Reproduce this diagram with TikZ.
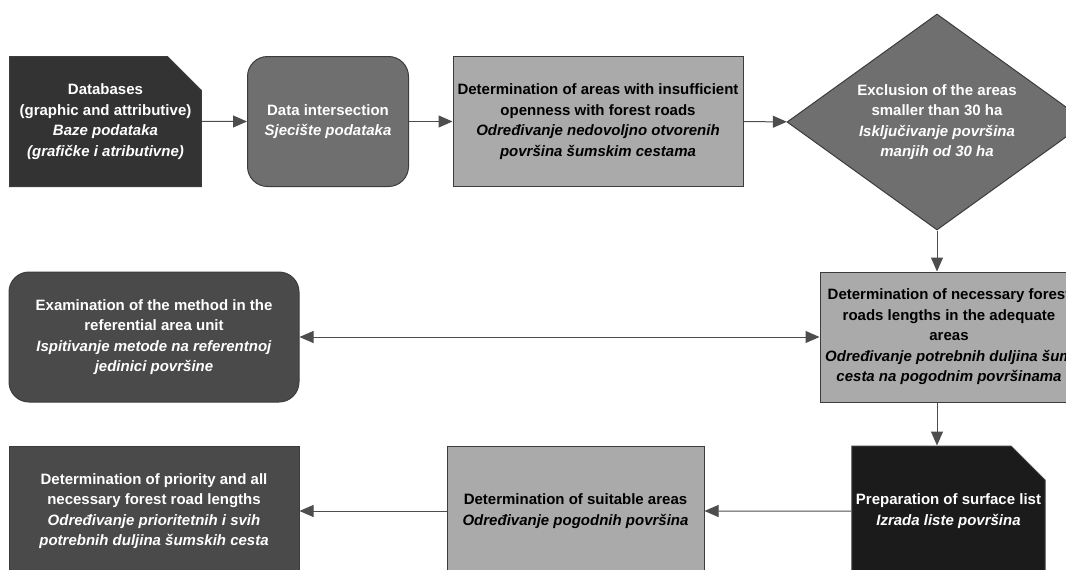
\documentclass[tikz,border=0pt]{standalone}
\usepackage{fontspec}
\setmainfont{Liberation Sans}
\usetikzlibrary{shapes.geometric, shapes.misc, arrows.meta}
\definecolor{charcoal}{HTML}{333333}
\definecolor{iron-grey}{HTML}{6F6F6F}
\definecolor{silver-grey}{HTML}{AAAAAA}
\definecolor{slate-grey}{HTML}{4A4A4A}
\definecolor{onyx}{HTML}{1B1B1B}
\definecolor{edge-grey}{HTML}{3C3C3C}
\definecolor{wire-grey}{HTML}{4D4D4D}

\begin{document}
\begin{tikzpicture}[x=1pt, y=-1pt,
    >={Triangle[length=14pt, width=12pt]},
    box/.style={draw=edge-grey, line width=1pt, align=center, inner sep=0pt, minimum height=130pt, font=\fontsize{15}{20.5}\selectfont\bfseries},
    note/.style={box, chamfered rectangle, chamfered rectangle corners=north east, chamfered rectangle xsep=17pt, chamfered rectangle ysep=17pt, minimum width=20pt},
    soft/.style={box, rounded corners=20pt},
    link/.style={draw=wire-grey, line width=1pt}]
  \useasboundingbox (0,0) rectangle (1066,570);
  \node[note, fill=charcoal, text=white, inner xsep=-7pt] (databases) at (105.5,121.5) {Databases\\(graphic and attributive)\\\textit{Baze podataka}\\\textit{(grafičke i atributivne)}};
  \node[soft, fill=iron-grey, text=white, minimum width=161pt] (intersection) at (328,121.5) {Data intersection\\\textit{Sjecište podataka}};
  \node[box, fill=silver-grey, minimum width=290pt] (openness) at (598,121.5) {Determination of areas with insufficient\\openness with forest roads\\\textit{Određivanje nedovoljno otvorenih}\\\textit{površina šumskim cestama}};
  \node[box, diamond, aspect=1.38, fill=iron-grey, text=white, minimum width=300pt, minimum height=216pt] (exclusion) at (937,122) {Exclusion of the areas\\smaller than 30 ha\\\textit{Isključivanje površina}\\\textit{manjih od 30 ha}};
  \node[box, fill=silver-grey, minimum width=258pt] (lengths) at (949,337) {Determination of necessary forest\\roads lengths in the adequate\\areas\\\textit{Određivanje potrebnih duljina šum}\\\textit{cesta na pogodnim površinama}};
  \node[soft, fill=slate-grey, text=white, minimum width=290pt] (examination) at (154,337) {Examination of the method in the\\referential area unit\\\textit{Ispitivanje metode na referentnoj}\\\textit{jedinici površine}};
  \node[note, fill=onyx, text=white, inner xsep=-13pt] (surfaces) at (948.5,511) {Preparation of surface list\\\textit{Izrada liste površina}};
  \node[box, fill=silver-grey, minimum width=257pt] (suitable) at (575.5,511) {Determination of suitable areas\\\textit{Određivanje pogodnih površina}};
  \node[box, fill=slate-grey, text=white, minimum width=290pt] (priority) at (154,511) {Determination of priority and all\\necessary forest road lengths\\\textit{Određivanje prioritetnih i svih}\\\textit{potrebnih duljina šumskih cesta}};

  \draw[link, ->] (databases) -- (intersection);
  \draw[link, ->] (intersection) -- (openness);
  \draw[link, ->] (openness) -- (exclusion);
  \draw[link, ->] (exclusion.south) -- (exclusion.south |- lengths.north);
  \draw[link, <->] (examination) -- (lengths);
  \draw[link, ->] (exclusion.south |- lengths.south) -- (exclusion.south |- surfaces.north);
  \draw[link, ->] (surfaces) -- (suitable);
  \draw[link, ->] (suitable) -- (priority);
\end{tikzpicture}
\end{document}
